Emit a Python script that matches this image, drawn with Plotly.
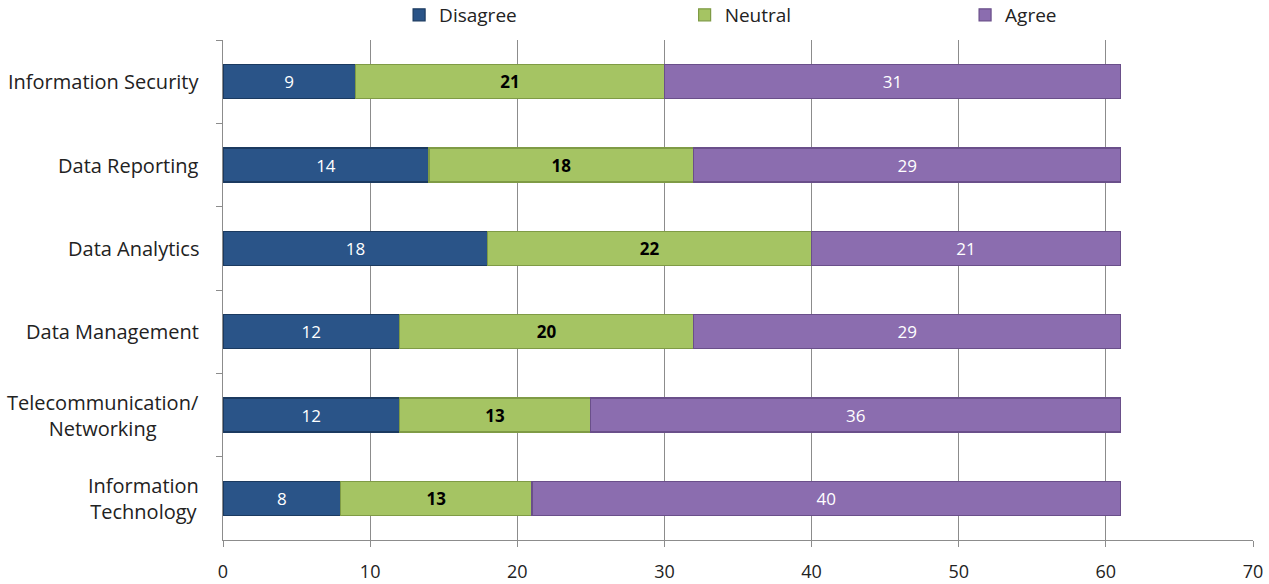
import plotly.graph_objects as go

# Survey responses per skill area (listed top to bottom)
categories = [
    "Information Security",
    "Data Reporting",
    "Data Analytics",
    "Data Management",
    "Telecommunication/<br>Networking",
    "Information<br>Technology",
]
disagree = [9, 14, 18, 12, 12, 8]
neutral = [21, 18, 22, 20, 13, 13]
agree = [31, 29, 21, 29, 36, 40]

x_ticks = [0, 10, 20, 30, 40, 50, 60, 70]

# name, values, fill, edge, label colour, legend id, legend x (container)
series = [
    ("Disagree", disagree, "#2A5488", "#1B3A60", "white", "legend", 0.3145),
    ("Neutral", neutral, "#A5C463", "#7F9B45", "black", "legend2", 0.5395),
    ("Agree", agree, "#8B6DAF", "#6A4F8A", "white", "legend3", 0.7605),
]

FONT = "Open Sans, Liberation Sans, Arial"

fig = go.Figure()
legends = {}
for name, vals, fill, edge, txt, leg, lx in series:
    fig.add_trace(go.Bar(
        name=name,
        y=categories,
        x=vals,
        orientation="h",
        width=0.41,
        marker=dict(color=fill, line=dict(color=edge, width=1.2)),
        text=vals,
        textposition="inside",
        insidetextanchor="middle",
        textangle=0,
        textfont=dict(family=FONT, size=17, color=txt,
                      weight="bold" if name == "Neutral" else "normal"),
        hoverinfo="skip",
        legend=leg,
        showlegend=True,
    ))
    legends[leg] = dict(
        orientation="h",
        xref="container", x=lx, xanchor="left",
        yref="paper", y=1.088, yanchor="top",
        font=dict(size=19, color="#222"),
        itemwidth=30,
        bgcolor="rgba(0,0,0,0)",
    )

# category labels, centred line by line, left of the axis
for cat in categories:
    fig.add_annotation(
        x=-0.021, xref="paper", xanchor="right",
        y=cat, yref="y",
        text=cat, showarrow=False, align="center",
        font=dict(family=FONT, size=20, color="#222"),
    )

fig.update_layout(
    barmode="stack",
    showlegend=True,
    width=1269,
    height=584,
    margin=dict(l=223, r=16, t=40, b=44, autoexpand=False),
    paper_bgcolor="white",
    plot_bgcolor="white",
    font=dict(family=FONT, size=18, color="#222"),
    xaxis=dict(
        range=[0, 70],
        tickvals=x_ticks,
        showgrid=True,
        gridcolor="#8C8C8C",
        gridwidth=1,
        showline=True,
        linecolor="#8C8C8C",
        ticks="outside",
        ticklen=6,
        tickcolor="#8C8C8C",
        zeroline=False,
        tickfont=dict(size=18),
        ticklabelstandoff=9,
    ),
    yaxis=dict(
        autorange="reversed",
        showline=True,
        linecolor="#8C8C8C",
        ticks="outside",
        ticklen=6,
        tickcolor="#8C8C8C",
        tickson="boundaries",
        showgrid=False,
        showticklabels=False,
    ),
    bargap=0.59,
    **legends,
)

fig.write_html("out.html")
